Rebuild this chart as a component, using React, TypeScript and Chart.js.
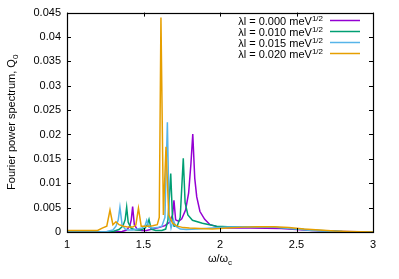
import React, { useEffect, useRef } from "react";
import { Chart, registerables } from "chart.js";

Chart.register(...registerables);

const FONT = "'Liberation Sans', Arial, sans-serif";

const seriesLabels = ["0.000", "0.010", "0.015", "0.020"];
const seriesColors = ["#9400d3", "#009e73", "#56b4e9", "#e69f00"];

// λl = 0.000
const omegaA = [1.0, 1.3, 1.36, 1.39, 1.41, 1.42, 1.429, 1.44, 1.46, 1.49, 1.52, 1.56, 1.6, 1.64, 1.67, 1.69, 1.699, 1.71, 1.73, 1.75, 1.775, 1.795, 1.81, 1.822, 1.835, 1.848, 1.869, 1.9, 1.935, 1.98, 2.05, 2.2, 2.4, 2.6, 2.8, 3.0];
const qA = [0, 0, 0.0001, 0.0004, 0.0012, 0.0025, 0.0052, 0.0015, 0.0005, 0.0003, 0.0003, 0.0006, 0.0009, 0.0013, 0.002, 0.0035, 0.0065, 0.0025, 0.0022, 0.0027, 0.0045, 0.008, 0.014, 0.0201, 0.011, 0.0072, 0.0042, 0.0026, 0.0015, 0.0011, 0.0008, 0.0008, 0.0007, 0.0003, 0.0001, 0];

// λl = 0.010
const omegaB = [1.0, 1.25, 1.3, 1.34, 1.365, 1.38, 1.39, 1.4, 1.42, 1.45, 1.48, 1.51, 1.525, 1.536, 1.55, 1.58, 1.62, 1.645, 1.66, 1.678, 1.69, 1.7, 1.72, 1.74, 1.76, 1.772, 1.79, 1.82, 1.885, 1.978, 2.05, 2.2, 2.35, 2.5, 2.65, 2.8, 3.0];
const qB = [0, 0, 0.0001, 0.0005, 0.0012, 0.0025, 0.0051, 0.002, 0.0007, 0.0004, 0.0004, 0.0008, 0.0015, 0.0026, 0.0006, 0.0003, 0.0003, 0.0006, 0.0025, 0.012, 0.0025, 0.0012, 0.0012, 0.003, 0.0151, 0.006, 0.0035, 0.0024, 0.0018, 0.0012, 0.0011, 0.0011, 0.001, 0.0006, 0.0003, 0.0001, 0];

// λl = 0.015
const omegaC = [1.0, 1.2, 1.26, 1.3, 1.32, 1.335, 1.346, 1.36, 1.38, 1.4, 1.43, 1.46, 1.49, 1.51, 1.521, 1.535, 1.56, 1.59, 1.62, 1.64, 1.656, 1.668, 1.68, 1.695, 1.71, 1.74, 1.78, 1.85, 1.95, 2.05, 2.2, 2.35, 2.5, 2.6, 2.75, 2.9, 3.0];
const qC = [0, 0, 0.0001, 0.0004, 0.0012, 0.0025, 0.0051, 0.0015, 0.0006, 0.0004, 0.0004, 0.0006, 0.0008, 0.0013, 0.0024, 0.001, 0.0008, 0.0009, 0.0012, 0.003, 0.0225, 0.003, 0.0008, 0.0025, 0.0012, 0.0006, 0.0005, 0.0006, 0.0008, 0.001, 0.0011, 0.001, 0.0006, 0.0003, 0.0001, 0, 0];

// λl = 0.020
const omegaD = [1.0, 1.1, 1.2, 1.23, 1.26, 1.281, 1.3, 1.32, 1.34, 1.37, 1.4, 1.43, 1.45, 1.467, 1.485, 1.5, 1.53, 1.56, 1.59, 1.603, 1.614, 1.63, 1.647, 1.665, 1.69, 1.72, 1.76, 1.8, 1.87, 1.95, 2.05, 2.15, 2.25, 2.35, 2.45, 2.55, 2.65, 2.75, 2.85, 3.0];
const qD = [0.0003, 0.0003, 0.0003, 0.0008, 0.0012, 0.0045, 0.0015, 0.0021, 0.0015, 0.0012, 0.001, 0.001, 0.0014, 0.0049, 0.0012, 0.0012, 0.0012, 0.0013, 0.0015, 0.003, 0.044, 0.0035, 0.0175, 0.0035, 0.0018, 0.0012, 0.0009, 0.0008, 0.0007, 0.0006, 0.0008, 0.001, 0.0011, 0.0011, 0.0009, 0.0006, 0.0004, 0.0002, 0.0001, 0];

const seriesOmega = [omegaA, omegaB, omegaC, omegaD];
const seriesQ = [qA, qB, qC, qD];

const xTicks = [1, 1.5, 2, 2.5, 3];
const yTicks = [0, 0.005, 0.01, 0.015, 0.02, 0.025, 0.03, 0.035, 0.04, 0.045];

const fmt = (v: number) => String(Number(v.toFixed(4)));

const framePlugin = {
  id: "frame",
  afterDatasetsDraw(chart: any) {
    const { ctx, chartArea: a, scales } = chart;
    const tl = 4;
    ctx.save();
    ctx.strokeStyle = "#000";
    ctx.lineWidth = 1;
    ctx.beginPath();
    for (const v of xTicks) {
      const px = Math.round(scales.x.getPixelForValue(v)) + 0.5;
      ctx.moveTo(px, a.bottom);
      ctx.lineTo(px, a.bottom - tl);
      ctx.moveTo(px, a.top);
      ctx.lineTo(px, a.top + tl);
    }
    for (const v of yTicks) {
      const py = Math.round(scales.y.getPixelForValue(v)) + 0.5;
      ctx.moveTo(a.left, py);
      ctx.lineTo(a.left + tl, py);
      ctx.moveTo(a.right, py);
      ctx.lineTo(a.right - tl, py);
    }
    ctx.stroke();
    ctx.lineWidth = 1.2;
    ctx.strokeRect(Math.round(a.left) + 0.5, Math.round(a.top) + 0.5, Math.round(a.right - a.left), Math.round(a.bottom - a.top));
    ctx.restore();
  },
  afterDraw(chart: any) {
    const { ctx, chartArea: a } = chart;
    ctx.save();
    ctx.fillStyle = "#000";
    // legend
    const supFont = `8px ${FONT}`;
    const mainFont = `11px ${FONT}`;
    const textRight = 323;
    seriesLabels.forEach((lab, i) => {
      const ly = 20 + 11 * i;
      ctx.font = supFont;
      const sw = ctx.measureText("1/2").width;
      ctx.textAlign = "left";
      ctx.textBaseline = "alphabetic";
      ctx.fillText("1/2", textRight - sw, ly + 1);
      ctx.font = mainFont;
      ctx.textAlign = "right";
      ctx.fillText(`λl = ${lab} meV`, textRight - sw, ly + 5);
      ctx.strokeStyle = seriesColors[i];
      ctx.lineWidth = 1.5;
      ctx.beginPath();
      ctx.moveTo(330, ly + 0.5);
      ctx.lineTo(360, ly + 0.5);
      ctx.stroke();
    });
    // x title
    ctx.font = mainFont;
    const xMain = "ω/ω";
    const xw = ctx.measureText(xMain).width;
    ctx.font = supFont;
    const xs = ctx.measureText("c").width;
    const cx = (a.left + a.right) / 2;
    const x0 = cx - (xw + xs) / 2;
    ctx.font = mainFont;
    ctx.textAlign = "left";
    ctx.textBaseline = "alphabetic";
    ctx.fillText(xMain, x0, 262);
    ctx.font = supFont;
    ctx.fillText("c", x0 + xw, 265);
    // y title
    ctx.translate(15, (a.top + a.bottom) / 2);
    ctx.rotate(-Math.PI / 2);
    ctx.font = mainFont;
    const yMain = "Fourier power spectrum, Q";
    const yw = ctx.measureText(yMain).width;
    ctx.font = supFont;
    const ys = ctx.measureText("0").width;
    const y0 = -(yw + ys) / 2;
    ctx.font = mainFont;
    ctx.fillText(yMain, y0, 0);
    ctx.font = supFont;
    ctx.fillText("0", y0 + yw, 3);
    ctx.restore();
  },
};

export default function App() {
  const ref = useRef<HTMLCanvasElement | null>(null);
  useEffect(() => {
    if (!ref.current) return;
    Chart.defaults.font.family = FONT;
    Chart.defaults.font.size = 11;
    Chart.defaults.color = "#000";
    const chart = new Chart(ref.current, {
      type: "line",
      data: {
        datasets: seriesLabels.map((lab, i) => ({
          label: `λl = ${lab} meV1/2`,
          data: seriesOmega[i].map((x, j) => ({ x, y: seriesQ[i][j] })),
          borderColor: seriesColors[i],
          backgroundColor: seriesColors[i],
          borderWidth: 1.5,
          pointRadius: 0,
          tension: 0,
          fill: false,
          order: 3 - i,
        })),
      },
      options: {
        responsive: false,
        animation: false,
        devicePixelRatio: 1,
        layout: { padding: { left: 0, right: 26, top: 11, bottom: 0 } },
        plugins: { legend: { display: false }, tooltip: { enabled: false } },
        scales: {
          x: {
            type: "linear",
            min: 1,
            max: 3,
            grid: { display: false, drawTicks: false },
            border: { display: false },
            afterBuildTicks: (s: any) => {
              s.ticks = xTicks.map((v) => ({ value: v }));
            },
            afterFit: (s: any) => {
              s.height = 47;
            },
            ticks: { padding: 6, maxRotation: 0, autoSkip: false, callback: (v: any) => fmt(Number(v)) },
          },
          y: {
            type: "linear",
            min: 0,
            max: 0.045,
            grid: { display: false, drawTicks: false },
            border: { display: false },
            afterBuildTicks: (s: any) => {
              s.ticks = yTicks.map((v) => ({ value: v }));
            },
            afterFit: (s: any) => {
              s.width = 67;
            },
            ticks: { padding: 6, autoSkip: false, callback: (v: any) => fmt(Number(v)) },
          },
        },
      },
      plugins: [framePlugin],
    } as any);
    return () => chart.destroy();
  }, []);
  return (
    <div style={{ position: "fixed", left: 0, top: 0, width: 399, height: 279, background: "#fff" }}>
      <canvas ref={ref} width={399} height={279} style={{ display: "block", width: 399, height: 279 }} />
    </div>
  );
}
